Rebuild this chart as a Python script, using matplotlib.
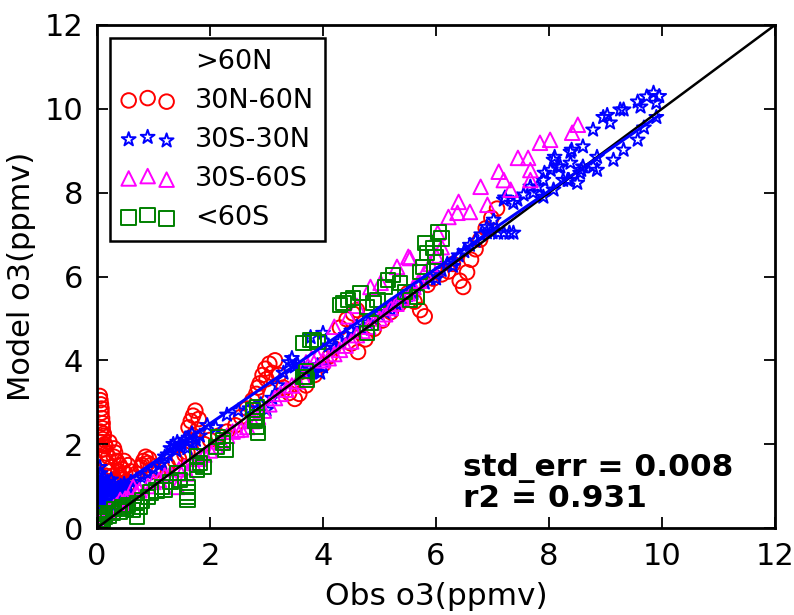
import matplotlib
matplotlib.use('Agg')
import matplotlib.pyplot as plt
import numpy as np

# --- data: obs (x) vs model (y) ozone, ppmv ---

# >60N : nothing visible in the plot
obs_60n = []
mod_60n = []

# 30N-60N
obs_3060n = [0.05, 0.06, 0.07, 0.08, 0.08, 0.09, 0.1, 0.1, 0.12, 0.1, 0.14, 0.12, 0.16, 0.1, 0.2, 0.18,
             0.25, 0.22, 0.28, 0.3, 0.32, 0.35, 0.4, 0.45, 0.5, 0.42, 0.55, 0.6, 0.5, 0.65, 0.7, 0.78,
             0.82, 0.86, 0.92, 0.95, 1.0, 1.1, 1.25, 1.38, 1.45, 1.55, 1.62, 1.66, 1.7, 1.74, 1.8, 1.78,
             1.9, 2.0, 2.15, 2.3, 2.45, 2.55, 2.65, 2.75, 2.82, 2.88, 2.93, 2.98, 3.05, 3.15, 3.22, 3.3,
             3.4, 3.5, 3.58, 3.7, 3.85, 4.0, 4.12, 4.18, 4.3, 4.42, 4.53, 4.6, 4.5, 4.62, 4.75, 4.9,
             5.05, 5.2, 5.35, 5.5, 5.62, 5.72, 5.8, 5.85, 5.95, 6.1, 6.22, 6.3, 6.42, 6.48, 6.55, 6.62,
             6.7, 6.78, 6.88, 6.98, 7.08,
             0.06, 0.12, 0.08, 0.15, 0.22, 0.3, 0.38, 0.45, 0.3, 0.35, 0.25, 0.15, 0.2, 0.55, 0.4, 0.48,
             0.9, 0.8, 1.6, 1.7, 2.85, 3.0, 3.1]
mod_3060n = [3.15, 3.05, 2.95, 2.85, 2.75, 2.62, 2.5, 2.38, 2.25, 2.12, 2.0, 1.88, 1.78, 1.65, 1.7, 1.55,
             1.45, 1.35, 1.25, 1.9, 1.8, 1.6, 1.5, 1.4, 1.3, 1.2, 1.5, 1.35, 1.1, 1.2, 1.3, 1.45,
             1.6, 1.7, 1.65, 1.5, 1.35, 1.4, 1.5, 1.6, 1.65, 1.75, 2.4, 2.55, 2.68, 2.8, 2.6, 2.35,
             2.0, 2.1, 2.2, 2.3, 2.45, 2.65, 2.85, 3.05, 3.2, 3.45, 3.65, 3.8, 3.92, 4.0, 3.65, 3.35,
             3.22, 3.08, 3.2, 3.4, 3.65, 3.9, 4.1, 4.3, 4.78, 4.98, 5.12, 5.2, 4.4, 4.2, 4.5, 4.75,
             4.95, 5.15, 5.35, 5.6, 5.4, 5.2, 5.05, 5.8, 5.95, 6.05, 6.12, 6.3, 5.9, 5.75, 6.1, 6.4,
             6.65, 6.88, 7.15, 7.4, 7.62,
             2.3, 2.2, 2.05, 1.95, 2.05, 1.7, 1.35, 1.15, 1.15, 1.05, 1.1, 1.25, 1.05, 1.05, 1.25, 1.6,
             1.55, 1.5, 1.8, 2.2, 3.35, 3.55, 3.7]

# 30S-30N
obs_3030 = [0.02, 0.05, 0.1, 0.15, 0.2, 0.1, 0.25, 0.3, 0.35, 0.4, 0.45, 0.5, 0.02, 0.03, 0.02, 0.08,
            0.03, 0.05, 0.04, 0.06, 0.05, 0.08, 0.06, 0.1, 0.12, 0.14, 0.15, 0.18, 0.2, 0.22, 0.25, 0.28,
            0.3, 0.35, 0.38, 0.42, 0.48, 0.55, 0.6, 0.7, 0.8, 0.9, 1.0, 1.1, 1.15, 1.2, 1.25,
            1.3, 1.35, 1.42, 1.5, 1.55, 1.62, 1.68, 1.75, 1.82, 1.95, 2.1, 2.3, 2.5, 2.7, 2.9, 3.0,
            3.1, 3.2, 3.3, 3.4, 3.45, 3.55, 3.65, 3.75, 3.85, 3.9, 3.95, 4.0, 3.78, 4.0, 4.1, 4.2,
            4.3, 4.4, 4.5, 4.6, 4.7, 4.8, 4.9, 5.0, 5.1, 5.2, 5.3, 5.4, 5.5, 5.6, 5.7, 5.8,
            5.9, 6.0, 6.1, 6.2, 6.3, 6.4, 6.5, 6.6, 6.7, 6.8, 6.9, 7.0, 7.1, 7.2, 7.3, 7.37,
            6.9, 7.02, 7.2, 7.22, 7.37, 7.44, 7.55, 7.67, 7.72, 7.8, 7.9, 7.9, 7.92, 8.03, 8.08, 8.08,
            8.1, 8.15, 8.2, 8.25, 8.33, 8.35, 8.38, 8.38, 8.4, 8.5, 8.55, 8.57, 8.6, 8.6, 8.78, 8.78,
            8.85, 8.85, 8.96, 9.03, 9.08, 9.14, 9.26, 9.32, 9.32, 9.57, 9.57, 9.62, 9.68, 9.73, 9.85, 9.9,
            9.9, 9.95,
            0.02, 0.04, 0.07, 0.1, 0.13, 0.17, 0.08, 0.12, 0.22, 0.18, 0.27, 0.33, 0.05, 0.09, 0.15, 0.25,
            1.4, 1.45, 1.6, 1.7, 3.5, 3.6, 3.7, 3.8, 5.2, 5.6, 6.0, 6.3]
mod_3030 = [0.2, 0.3, 0.35, 0.45, 0.5, 0.45, 0.55, 0.6, 0.65, 0.7, 0.75, 0.8, 0.9, 1.1, 1.25, 0.95,
            0.4, 0.55, 0.7, 0.85, 1.0, 1.15, 1.3, 0.6, 0.75, 0.9, 1.05, 0.7, 0.85, 1.0, 0.8, 0.9,
            1.05, 0.85, 0.95, 1.0, 1.05, 1.0, 1.1, 1.15, 1.2, 1.3, 1.4, 1.5, 1.55, 1.7, 1.75,
            1.9, 2.0, 2.05, 2.0, 2.1, 2.15, 2.25, 2.1, 2.2, 2.45, 2.4, 2.7, 2.8, 2.85, 2.95, 2.82,
            3.1, 3.4, 3.7, 3.95, 4.05, 3.9, 3.85, 3.8, 3.75, 3.88, 3.7, 3.85, 4.55, 4.65, 4.35, 4.3,
            4.45, 4.6, 4.7, 4.8, 4.75, 4.9, 5.0, 5.1, 5.15, 5.3, 5.35, 5.45, 5.55, 5.65, 5.8, 5.85,
            5.95, 6.05, 6.15, 6.3, 6.35, 6.5, 6.6, 6.75, 6.85, 7.0, 7.05, 7.05, 7.04, 7.04, 7.04, 7.04,
            7.18, 7.35, 7.83, 7.88, 7.75, 7.83, 7.95, 8.14, 8.0, 8.14, 8.3, 7.9, 8.47, 8.54, 8.07, 8.78,
            8.85, 8.62, 8.62, 8.3, 8.3, 8.3, 8.71, 8.97, 9.02, 8.23, 8.47, 8.54, 8.62, 9.1, 8.62, 9.5,
            8.54, 8.85, 9.8, 9.85, 9.67, 8.78, 9.98, 9.02, 9.98, 9.26, 10.17, 10.05, 9.55, 10.29, 10.38, 10.14,
            9.8, 10.3,
            0.6, 0.75, 0.65, 0.8, 0.95, 0.6, 1.1, 1.2, 0.75, 1.1, 0.65, 0.9, 1.45, 0.5, 0.55, 1.15,
            1.85, 1.95, 1.9, 2.0, 3.85, 3.8, 3.7, 3.72, 5.2, 5.6, 5.95, 6.25]

# 30S-60S
obs_3060s = [0.05, 0.1, 0.15, 0.2, 0.25, 0.3, 0.35, 0.41, 0.45, 0.5, 0.55, 0.64, 0.7, 0.75, 0.82, 0.9,
             1.0, 1.1, 1.2, 1.3, 1.42, 1.45, 1.55, 1.6, 1.7, 1.8, 1.9, 2.0, 2.1, 2.2, 2.3, 2.4,
             2.48, 2.55, 2.66, 2.75, 2.85, 2.95, 3.05, 3.15, 3.25, 3.35, 3.45, 3.55, 3.65, 3.7, 3.8, 3.9,
             4.0, 4.1, 4.2, 4.3, 4.4, 4.5, 4.6, 4.7, 4.8, 4.84, 4.9, 5.02, 5.0, 5.1, 5.2, 5.31,
             5.3, 5.4, 5.51, 5.54, 5.5, 5.6, 5.7, 5.8, 5.9, 6.03, 6.0, 6.1, 6.22, 6.38, 6.4, 6.6,
             6.79, 6.91, 7.11, 7.2, 7.32, 7.45, 7.63, 7.67, 7.67, 7.84, 8.02, 8.41, 8.51, 4.6, 4.45, 4.2]
mod_3060s = [0.15, 0.25, 0.3, 0.4, 0.45, 0.5, 0.55, 0.67, 0.6, 0.7, 0.72, 0.98, 0.85, 0.9, 0.84, 1.0,
             1.1, 1.15, 1.25, 1.3, 0.98, 1.4, 1.45, 1.3, 1.55, 1.65, 1.75, 1.85, 1.95, 2.05, 2.2, 2.3,
             2.34, 2.35, 2.41, 2.55, 2.65, 2.8, 2.95, 3.1, 3.2, 3.3, 3.4, 3.5, 3.6, 3.95, 4.05, 4.1,
             4.0, 4.05, 4.15, 4.25, 4.35, 4.45, 4.6, 4.7, 4.8, 5.75, 4.9, 5.85, 5.0, 5.1, 5.25, 6.23,
             5.35, 5.5, 6.47, 6.44, 5.6, 5.75, 5.9, 6.1, 6.3, 7.04, 6.5, 6.7, 7.42, 7.52, 7.78, 7.54,
             8.14, 7.71, 8.5, 8.3, 8.07, 8.83, 8.83, 8.54, 8.3, 9.19, 9.26, 9.43, 9.62, 5.3, 5.05, 4.8]

# <60S
obs_60s = [0.02, 0.05, 0.08, 0.1, 0.14, 0.12, 0.2, 0.28, 0.3, 0.4, 0.45, 0.5, 0.55, 0.64, 0.71, 0.71,
           0.75, 0.8, 0.9, 0.95, 1.05, 1.15, 1.2, 1.3, 1.42, 1.47, 1.6, 1.6, 1.61, 1.6, 1.77, 1.77,
           1.82, 1.77, 1.88, 2.12, 2.14, 2.23, 2.23, 2.27, 2.76, 2.83, 2.83, 2.83, 2.85, 2.8, 3.65, 3.68,
           3.72, 3.7, 3.65, 3.78, 3.83, 3.9, 4.3, 4.36, 4.44, 4.53, 4.66, 4.78, 4.78, 4.84, 4.89, 4.96,
           5.1, 5.15, 5.24, 5.36, 5.45, 5.54, 5.66, 5.72, 5.77, 5.84, 5.81, 5.96, 5.99, 6.04, 6.1]
mod_60s = [0.05, 0.1, 0.15, 0.2, 0.26, 0.35, 0.3, 0.36, 0.45, 0.4, 0.5, 0.45, 0.55, 0.43, 0.26, 0.6,
           0.5, 0.65, 0.74, 0.85, 0.9, 0.98, 0.91, 1.1, 1.31, 1.15, 0.74, 0.67, 0.98, 0.85, 1.38, 1.5,
           1.55, 1.7, 1.46, 1.93, 2.17, 2.03, 2.1, 1.86, 2.82, 2.89, 2.65, 2.41, 2.27, 2.55, 3.6, 3.6,
           3.53, 3.75, 4.41, 4.49, 4.49, 4.44, 5.32, 5.37, 5.44, 5.49, 5.61, 5.27, 4.65, 4.89, 5.37, 5.44,
           5.75, 5.92, 6.04, 5.85, 5.63, 5.44, 5.51, 6.11, 6.23, 6.56, 6.8, 6.68, 6.47, 7.06, 6.9]

# regression line (blue) and 1:1 line
fit_slope = 0.925
fit_intercept = 0.64
fit_x = [0.0, 9.95]
one_to_one = [0, 12]

std_err = 0.008
r2 = 0.931

fig = plt.figure(figsize=(7.94, 6.15), dpi=100)
ax = fig.add_axes([97/794., 87/615., 678/794., 503/615.])

ms = 110
lw = 1.4
ax.scatter(obs_60n, mod_60n, s=ms, marker='o', facecolors='none', edgecolors='none', label='>60N')
ax.scatter(obs_3060n, mod_3060n, s=ms, marker='o', facecolors='none', edgecolors='r', linewidths=lw, label='30N-60N')
ax.scatter(obs_3030, mod_3030, s=ms, marker='*', facecolors='none', edgecolors='b', linewidths=lw, label='30S-30N')
ax.scatter(obs_3060s, mod_3060s, s=ms, marker='^', facecolors='none', edgecolors='#ff00ff', linewidths=lw, label='30S-60S')
ax.scatter(obs_60s, mod_60s, s=ms, marker='s', facecolors='none', edgecolors='g', linewidths=lw, label='<60S')

ax.plot(one_to_one, one_to_one, color='k', lw=1.8)
fx = np.array(fit_x)
ax.plot(fx, fit_slope * fx + fit_intercept, color='b', lw=2.2)

ax.text(6.48, 1.24, 'std_err = %.3f' % std_err, fontsize=22.5, fontweight='bold')
ax.text(6.48, 0.5, 'r2 = %.3f' % r2, fontsize=22.5, fontweight='bold')

ax.set_xlim(0, 12)
ax.set_ylim(0, 12)
ax.set_xticks(range(0, 13, 2))
ax.set_yticks(range(0, 13, 2))
ax.tick_params(direction='in', top=True, right=True, length=8, width=1.3, labelsize=22, pad=10)
for sp in ax.spines.values():
    sp.set_linewidth(2)
ax.set_xlabel('Obs o3(ppmv)', fontsize=22.5, labelpad=8)
ax.set_ylabel('Model o3(ppmv)', fontsize=22, labelpad=6)

leg = ax.legend(loc='upper left', scatterpoints=3, scatteryoffsets=[0.375, 0.5, 0.3125],
                fontsize=19.5, fancybox=False, framealpha=1, edgecolor='k',
                handlelength=2.0, handletextpad=0.75, labelspacing=0.48, borderaxespad=0.47)
leg.get_frame().set_linewidth(1.8)

fig.savefig('out.png', dpi=100)
